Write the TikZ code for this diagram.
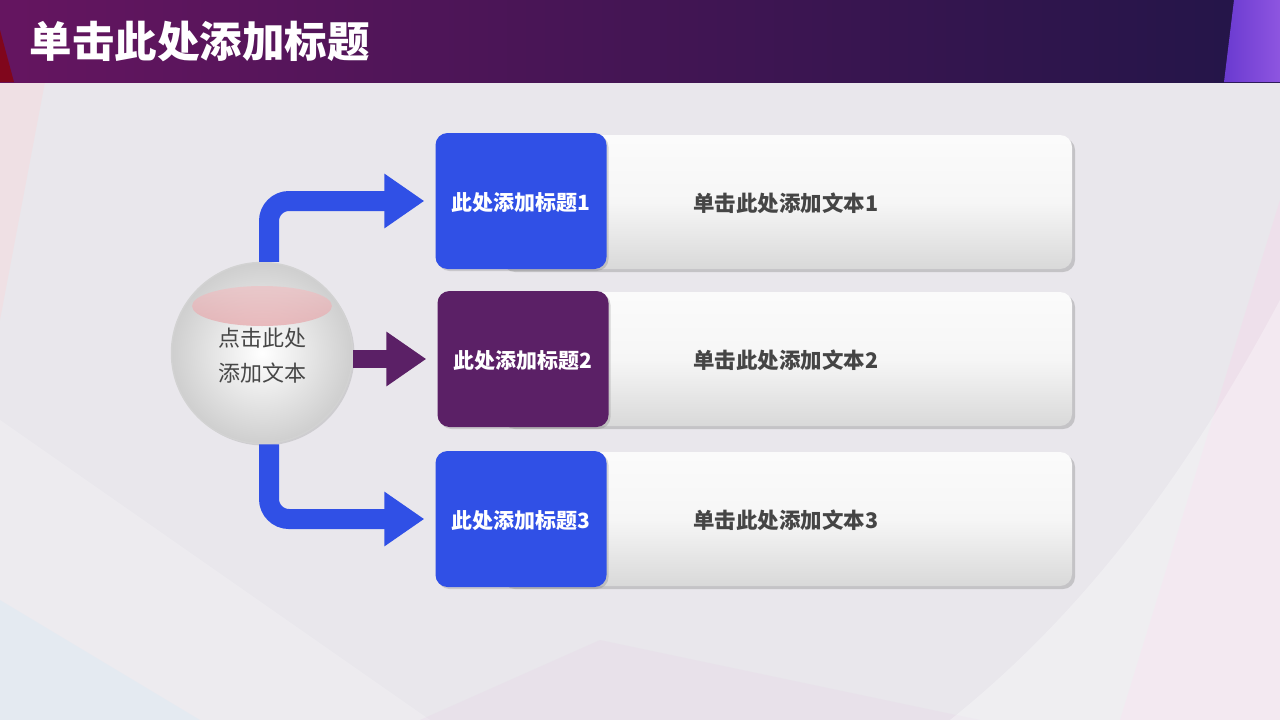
\documentclass[tikz,border=0pt]{standalone}
\usepackage{fontspec}
\setmainfont{Noto Sans CJK SC}
\usetikzlibrary{arrows.meta,shadows,positioning}
\definecolor{tblue}{HTML}{3050E6}
\definecolor{tpurple}{HTML}{5B2066}
\definecolor{bgcol}{HTML}{E9E7EC}
\definecolor{bodytext}{HTML}{454545}
\definecolor{barleft}{HTML}{651560}
\definecolor{barmid}{HTML}{3A1350}
\definecolor{barright}{HTML}{221548}
\definecolor{hilite}{HTML}{E6A8AC}
\definecolor{stripa}{HTML}{6A3AD0}
\definecolor{stripb}{HTML}{8E55E0}

\begin{document}
\begin{tikzpicture}[x=1pt,y=-1pt,
  ttlbox/.style={rounded corners=12pt, minimum width=171pt, minimum height=136pt, text=white,
    font=\bfseries\fontsize{21}{25}\selectfont, inner sep=0pt, text depth=0pt,
    drop shadow={shadow xshift=2pt, shadow yshift=-2pt, opacity=0.3}},
  txtbox/.style={rounded corners=12pt, minimum width=572pt, minimum height=134pt,
    top color=white!97!gray, bottom color=gray!30, middle color=white!93!gray, text=bodytext, inner sep=0pt,
    font=\bfseries\fontsize{21.5}{26}\selectfont, text depth=0pt,
    drop shadow={shadow xshift=3pt, shadow yshift=-3pt, opacity=0.35}},
  flow/.style={line width=20pt, rounded corners=20pt, -{Triangle[length=40pt,width=52pt]}, shorten >=11pt}]
\useasboundingbox (0,0) rectangle (1280,720);
% background
\fill[bgcol] (0,0) rectangle (1280,720);
\fill[white, opacity=0.2] (0,420) -- (430,720) -- (0,720) -- cycle;
\fill[cyan!25, opacity=0.18] (0,600) -- (200,720) -- (0,720) -- cycle;
\fill[pink!70, opacity=0.3] (0,82) -- (45,82) -- (0,320) -- cycle;
\fill[violet!20, opacity=0.2] (420,720) -- (600,640) -- (980,720) -- cycle;
\fill[magenta!18, opacity=0.3] (1280,200) -- (1280,720) -- (1120,720) -- cycle;
\fill[white, opacity=0.3] (950,720) .. controls (1100,600) and (1200,450) .. (1280,300) -- (1280,720) -- cycle;
% title bar
\shade[left color=barleft, middle color=barmid, right color=barright] (0,0) rectangle (1280,82);
\fill[red!55!black, opacity=0.7] (0,30) -- (14,82) -- (0,82) -- cycle;
\shade[left color=stripa, right color=stripb] (1234,0) -- (1280,0) -- (1280,82) -- (1224,82) -- cycle;
\node[anchor=west, text=white, font=\bfseries\fontsize{42.5}{50}\selectfont] (heading) at (26,41) {单击此处添加标题};

% rows
\node[txtbox] (b1) at (786,202) {单击此处添加文本1};
\node[txtbox] (b2) at (786,359) {单击此处添加文本2};
\node[txtbox] (b3) at (786,519) {单击此处添加文本3};
\node[ttlbox, fill=tblue] (t1) at (521,201) {此处添加标题1};
\node[ttlbox, fill=tpurple] (t2) at (523,359) {此处添加标题2};
\node[ttlbox, fill=tblue] (t3) at (521,519) {此处添加标题3};

% hub
\node[circle, minimum size=181pt, inner sep=0pt, inner color=white, outer color=gray!38,
  draw=gray!35, line width=1.5pt,
  drop shadow={shadow xshift=2pt, shadow yshift=-2pt, opacity=0.25}] (hub) at (262,353) {};
\shade[top color=hilite!70, bottom color=hilite, opacity=0.75] ([yshift=47pt]hub.center) ellipse [x radius=70pt, y radius=20pt];
\node[align=center, text=black!72, font=\fontsize{22}{35}\selectfont] (hubtext) at ([yshift=-3pt]hub.center) {点击此处\\添加文本};

% arrows
\draw[flow, tblue] ([xshift=7pt]hub.north) |- (t1.west);
\draw[flow, tblue] ([xshift=7pt]hub.south) |- (t3.west);
\draw[flow, tpurple, line width=18pt] (hub.east |- t2.west) -- (t2.west);
\end{tikzpicture}
\end{document}
